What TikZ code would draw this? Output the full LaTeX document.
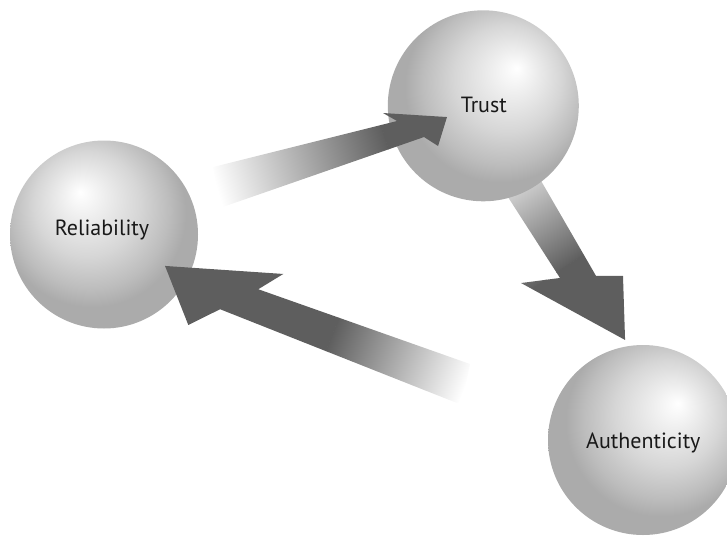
\documentclass[tikz,border=0pt]{standalone}
\usepackage{fontspec}
\setmainfont{PT Sans}
\definecolor{arrowdark}{gray}{0.37}
\definecolor{txt}{gray}{0.10}
\definecolor{sphA}{gray}{0.93}
\definecolor{sphB}{gray}{0.84}
\definecolor{sphC}{gray}{0.74}
\definecolor{sphD}{gray}{0.67}
\pgfdeclareradialshading{sphRel}{\pgfpoint{-6.4bp}{11.3bp}}{color(0bp)=(white); color(6bp)=(sphA); color(14bp)=(sphB); color(21bp)=(sphC); color(25bp)=(sphD); color(50bp)=(sphD)}
\pgfdeclareradialshading{sphTru}{\pgfpoint{8.8bp}{9.9bp}}{color(0bp)=(white); color(6bp)=(sphA); color(14bp)=(sphB); color(21bp)=(sphC); color(25bp)=(sphD); color(50bp)=(sphD)}
\pgfdeclareradialshading{sphAut}{\pgfpoint{9.2bp}{9.7bp}}{color(0bp)=(white); color(6bp)=(sphA); color(14bp)=(sphB); color(21bp)=(sphC); color(25bp)=(sphD); color(50bp)=(sphD)}
\begin{document}
\begin{tikzpicture}[x=1pt,y=-1pt,
  sphere/.style={circle, inner sep=0pt, shade},
  lbl/.style={font=\fontsize{22}{24}\selectfont, text=txt, inner sep=0pt, anchor=base}]
\useasboundingbox (0,0) rectangle (727,538);
% arrow Trust -> Authenticity (tail hidden under Trust)
\begin{scope}[transform canvas={shift={(513,170)},rotate=-56.6}]
  \begin{scope}
    \clip (-0.45pt,-18.86pt) -- (116pt,-20.2pt) -- (98.8pt,-55.5pt) -- (203.6pt,0pt)
      -- (149pt,33.5pt) -- (134.2pt,11pt) -- (0.45pt,18.86pt) -- cycle;
    \shade[left color=white, right color=arrowdark] (-20pt,-80pt) rectangle (110pt,80pt);
    \fill[arrowdark] (109.5pt,-80pt) rectangle (260pt,80pt);
  \end{scope}
\end{scope}
% spheres
\node[sphere, minimum size=188pt, shading=sphRel] (rel) at (104,234.5) {};
\node[sphere, minimum size=191pt, shading=sphTru] (tru) at (483.3,105.8) {};
\node[sphere, minimum size=190pt, shading=sphAut] (aut) at (643,440) {};
% arrow Reliability -> Trust
\begin{scope}[transform canvas={shift={(216.5,187.5)},rotate=17.0}]
  \begin{scope}
    \clip (2.65pt,20.63pt) -- (192.1pt,10.8pt) -- (181pt,22.55pt) -- (241pt,0pt)
      -- (224pt,-25.1pt) -- (213.2pt,-12.4pt) -- (-2.65pt,-20.6pt) -- cycle;
    \shade[left color=white, right color=arrowdark] (0pt,-80pt) rectangle (176pt,80pt);
    \fill[arrowdark] (175.5pt,-80pt) rectangle (300pt,80pt);
  \end{scope}
\end{scope}
% arrow (lower right) -> Reliability
\begin{scope}[transform canvas={shift={(466,384.5)},rotate=158.5}]
  \begin{scope}
    \clip (3.79pt,-20.54pt) -- (228.2pt,-12.5pt) -- (210.5pt,-35.9pt) -- (323.5pt,0pt)
      -- (280.2pt,46.4pt) -- (256.4pt,20.1pt) -- (-3.79pt,20.54pt) -- cycle;
    \shade[left color=white, right color=arrowdark] (0pt,-80pt) rectangle (143pt,80pt);
    \fill[arrowdark] (142.5pt,-80pt) rectangle (360pt,80pt);
  \end{scope}
\end{scope}
% labels
\node[lbl] (relT) at (102,235.7) {Reliability};
\node[lbl] (truT) at (483.8,112.3) {Trust};
\node[lbl] (autT) at (643.3,448.3) {Authenticity};
\end{tikzpicture}
\end{document}
